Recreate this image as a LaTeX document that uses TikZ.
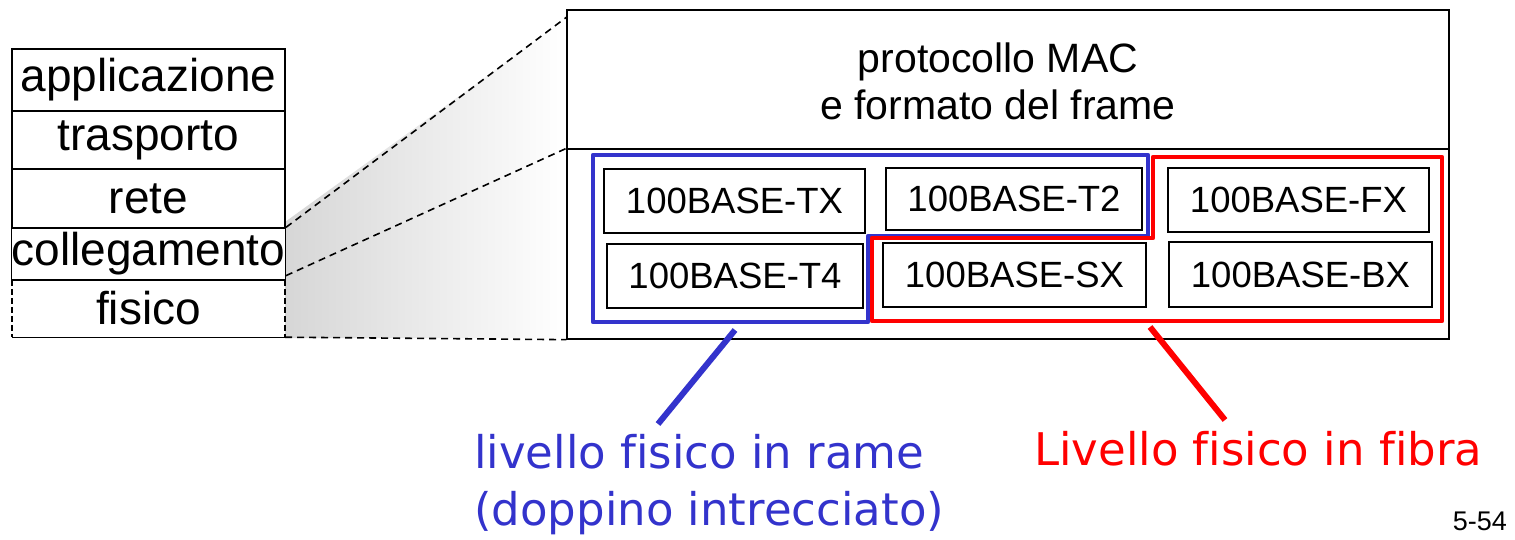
\documentclass[tikz,border=0pt]{standalone}
\usepackage{fontspec}
\usetikzlibrary{calc}
\setmainfont{Liberation Sans}
\newfontfamily\handfont[Ligatures=NoCommon]{DejaVu Sans}
\definecolor{myblue}{RGB}{51,51,204}
\definecolor{myred}{RGB}{255,0,0}
\begin{document}
\begin{tikzpicture}[x=1pt,y=-1pt,
  layer/.style={draw, line width=1.3pt, minimum width=273pt, inner sep=0pt, font=\fontsize{46}{50}\selectfont},
  sub/.style={draw, line width=1.2pt, inner sep=0pt, font=\fontsize{36.5}{40}\selectfont},
  big/.style={draw, line width=1.3pt, inner sep=0pt, minimum width=882pt},
  zoomline/.style={dashed, line width=1.6pt, dash pattern=on 7pt off 5pt},
  grp/.style={line width=4.5pt, line join=round},
  leader/.style={line width=6pt},
  hand/.style={font=\handfont\fontsize{45}{57}\selectfont, inner sep=0pt}
]
\useasboundingbox (0,0) rectangle (1515,539);

% shaded zoom area
\shade[left color=black!16, right color=white] (285,222) -- (567,18) -- (567,338) -- (285,338) -- cycle;

% protocol stack
\node[layer, minimum height=62pt] (app) at (148.5,80) {applicazione};
\node[layer, minimum height=58pt] (tra) at (148.5,140) {trasporto};
\node[layer, minimum height=59pt] (ret) at (148.5,198.5) {rete};
\node[layer, minimum height=52pt] (col) at (148.5,254) {collegamento};
\node[minimum width=273pt, minimum height=57pt, inner sep=0pt, font=\fontsize{46}{50}\selectfont] (fis) at (148.5,308.5) {fisico};
\draw[line width=1.3pt] (fis.south west) -- (fis.south east);
\draw[line width=1.8pt, dashed, dash pattern=on 6pt off 3pt] (fis.north west) -- (fis.south west);
\draw[line width=1.8pt, dashed, dash pattern=on 6pt off 3pt] (fis.north east) -- (fis.south east);

% right box
\node[big, minimum height=139pt] (mac) at (1008,79.5) {};
\node[align=center, inner sep=0pt, font=\fontsize{41}{47}\selectfont] (mactext) at (998,81) {protocollo MAC\\e formato del frame};
\node[big, minimum height=190pt] (phy) at (1008,244) {};

% zoom lines
\coordinate (ztop) at ($(mac.north west)+(0,8)$);
\coordinate (zmid) at ($(col.south east)+(0,-5)$);
\draw[zoomline] (col.north east) -- (ztop);
\draw[zoomline] (zmid) -- (phy.north west);
\draw[zoomline] (fis.south east) -- (phy.south west);

% sub boxes
\node[sub, minimum width=261pt, minimum height=64pt] (tx) at (734.5,201) {100BASE-TX};
\node[sub, minimum width=256pt, minimum height=64pt] (t4) at (735,276) {100BASE-T4};
\node[sub, minimum width=256pt, minimum height=62pt] (t2) at (1014,199) {100BASE-T2};
\node[sub, minimum width=263pt, minimum height=64pt] (sx) at (1014.5,275) {100BASE-SX};
\node[sub, minimum width=261pt, minimum height=64pt] (fx) at (1298.5,200) {100BASE-FX};
\node[sub, minimum width=263pt, minimum height=65pt] (bx) at (1300.5,274.5) {100BASE-BX};

% groups
\draw[grp, myblue] (593,155) -- (1148,155) -- (1148,236) -- (868,236) -- (868,322) -- (593,322) -- cycle;
\draw[grp, myred] (872,238) -- (1153,238) -- (1153,157) -- (1442,157) -- (1442,321) -- (872,321) -- cycle;

% labels
\node[hand, myblue, anchor=north west, align=left] (rame) at (474,434) {livello fisico in rame\\(doppino intrecciato)};
\node[hand, myred, anchor=north west] (fibra) at (1034,431) {Livello fisico in fibra};
\coordinate (bt) at (735,330);
\coordinate (rt) at (1150,327);
\draw[leader, myblue] (bt) -- (658,424);
\draw[leader, myred] (rt) -- (1225,420);

\node[anchor=base east, inner sep=0pt, font=\fontsize{27}{30}\selectfont] (pg) at (1507,530) {5-54};
\end{tikzpicture}
\end{document}
